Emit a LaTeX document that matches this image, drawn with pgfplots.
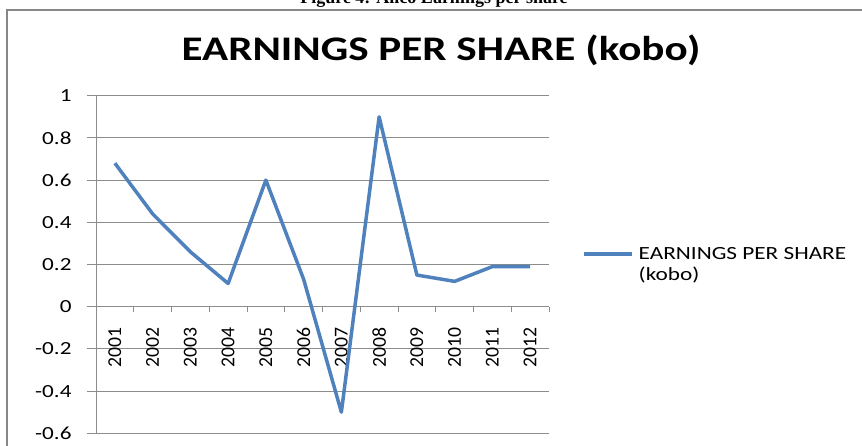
\documentclass[border=0pt]{standalone}
\usepackage{fontspec}
\setmainfont{Carlito}
\newfontfamily\wide[FakeStretch=1.25]{Carlito}
\newfontfamily\capfont{Liberation Serif}
\usepackage{pgfplots}
\pgfplotsset{compat=1.18}
\definecolor{epsblue}{HTML}{4F81BD}
\definecolor{gridgray}{HTML}{8C8C8C}
\definecolor{framegray}{HTML}{878787}

\begin{document}
\begin{tikzpicture}[x=1pt,y=1pt]
\useasboundingbox (0,0) rectangle (862,446);
\clip (0,0) rectangle (862,446);
% caption, mostly cut off at the top
\node[anchor=base, font=\capfont\bfseries\fontsize{18}{20}\selectfont] at (434,442.5) {Figure 4: Aiico Earnings per share};
% chart frame
\draw[framegray, line width=2pt] (7,-5) -- (7,436) -- (870,436);
\node[anchor=base, font=\wide\bfseries\fontsize{34.5}{40}\selectfont] at (441,385) {EARNINGS PER SHARE (kobo)};
\begin{axis}[
  at={(96pt,12.7pt)}, anchor=south west,
  scale only axis, width=453pt, height=337.6pt,
  xmin=-0.5, xmax=11.5, ymin=-0.6, ymax=1,
  axis y line=left, axis x line=middle,
  axis line style={-, gridgray, line width=1pt},
  hide obscured y ticks=false,
  xtick={0,1,2,3,4,5,6,7,8,9,10,11},
  xticklabels={2001,2002,2003,2004,2005,2006,2007,2008,2009,2010,2011,2012},
  minor xtick={0.5,1.5,2.5,3.5,4.5,5.5,6.5,7.5,8.5,9.5,10.5,11.5},
  ytick={-0.6,-0.4,-0.2,0,0.2,0.4,0.6,0.8,1},
  yticklabels={-0.6,-0.4,-0.2,0,0.2,0.4,0.6,0.8,1},
  tick align=inside,
  major tick length=9.3pt, minor tick length=5pt,
  major x tick style={draw=none},
  minor x tick style={yshift=-5pt},
  major y tick style={xshift=-9.3pt},
  tick style={gridgray, line width=1pt},
  ymajorgrids, grid style={gridgray, line width=1pt},
  yticklabel shift=24.3pt, xticklabel shift=20.6pt,
  yticklabel style={font=\wide\fontsize{18.5}{20}\selectfont, inner sep=0pt},
  xticklabel style={font=\fontsize{19.7}{22}\selectfont, inner sep=0pt, rotate=90, anchor=east},
  legend style={draw=none, fill=none, at={(1,0.5)}, anchor=west, xshift=33pt,
    inner sep=0pt, font=\wide\fontsize{18.6}{21}\selectfont,
    cells={anchor=west, align=left}, column sep=3pt},
  legend image code/.code={\draw[#1] (0pt,10.5pt) -- (48pt,10.5pt);},
]
\addplot[epsblue, line width=3.5pt, line join=round] coordinates {
  (0,0.68) (1,0.44) (2,0.26) (3,0.11) (4,0.60) (5,0.13)
  (6,-0.50) (7,0.90) (8,0.15) (9,0.12) (10,0.19) (11,0.19)
};
\addlegendentry{EARNINGS PER SHARE\\(kobo)}
\end{axis}
\end{tikzpicture}
\end{document}
